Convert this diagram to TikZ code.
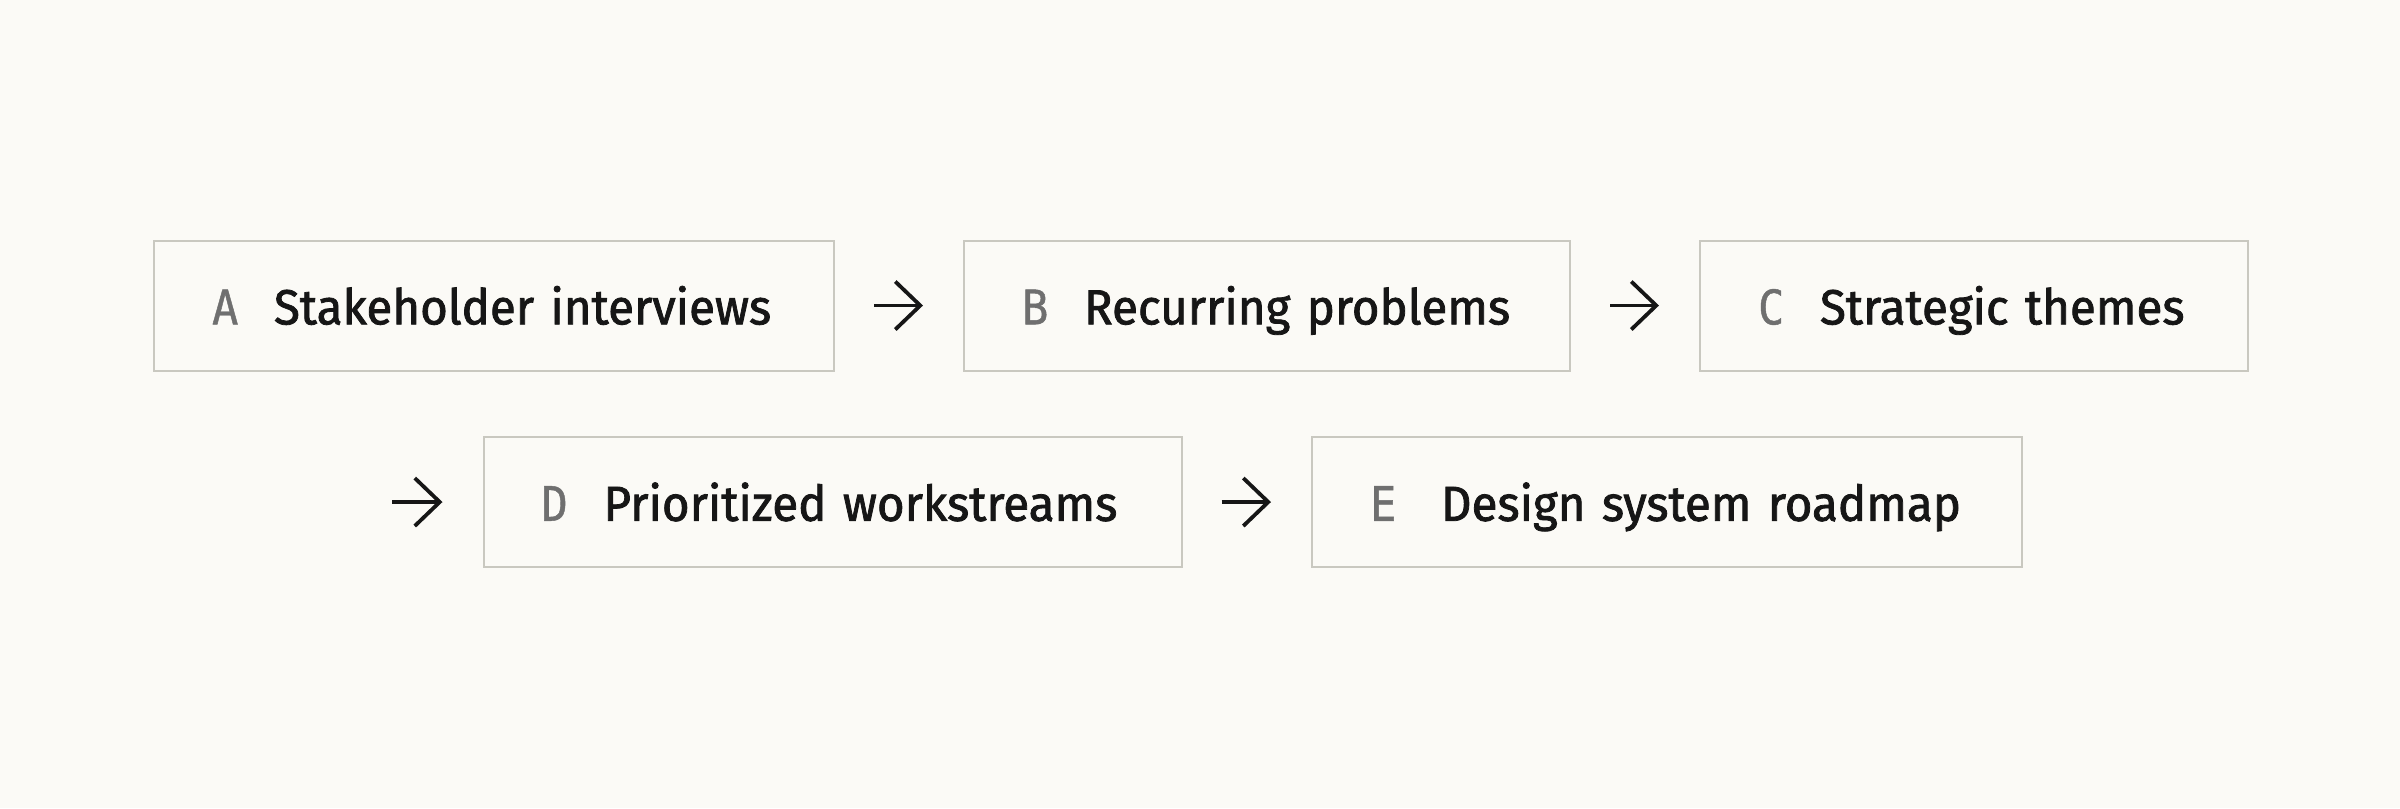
\documentclass[tikz,border=0pt]{standalone}
\usepackage{fontspec}
\setmainfont{Fira Sans}[FakeBold=1.6, FakeStretch=0.965]
\newfontfamily\lettfont{DejaVu Sans Mono}[FakeBold=0.9, FakeStretch=0.92]
\usetikzlibrary{arrows.meta}
\definecolor{bgcol}{HTML}{FBFAF6}
\definecolor{edgecol}{HTML}{C9C8C0}
\definecolor{inkcol}{HTML}{161616}
\definecolor{lettcol}{HTML}{6F6F6F}
\newcommand{\steplabel}[3]{\mbox{\makebox[#3][l]{\fontsize{11.9pt}{14pt}\lettfont\color{lettcol}#1}#2}}
\tikzset{
  stepbox/.style={draw=edgecol, line width=0.5pt, fill=bgcol, anchor=west,
    minimum height=32.5pt, inner xsep=14.5pt, inner ysep=0pt,
    text height=11.9pt, text depth=2.5pt, align=left,
    font=\fontsize{12.3pt}{15pt}\selectfont, text=inkcol},
  flowarrow/.style={draw=inkcol, line width=0.95pt,
    -{Straight Barb[length=6.25pt, width=12pt, line width=0.95pt]},
    shorten <=9.75pt, shorten >=10pt}
}
\begin{document}
\begin{tikzpicture}[x=0.25pt, y=-0.25pt]
\fill[bgcol] (0,0) rectangle (2400,808);
\useasboundingbox (0,0) rectangle (2400,808);
\node[stepbox, text width=141pt] (A) at (153,305.5) {\steplabel{A}{Stakeholder interviews}{15.5pt}};
\node[stepbox, text width=122.5pt] (B) at (963,305.5) {\steplabel{B}{Recurring problems}{15.5pt}};
\node[stepbox, text width=108pt] (C) at (1699,305.5) {\steplabel{C}{Strategic themes}{15.5pt}};
\node[stepbox, text width=145.5pt] (D) at (482.5,502) {\steplabel{D}{Prioritized workstreams}{15.5pt}};
\node[stepbox, text width=148.5pt] (E) at (1311,502) {\steplabel{E}{Design system roadmap}{17.75pt}};
\coordinate (Din) at (392,502);
\draw[flowarrow] (A.east) -- (B.west);
\draw[flowarrow] (B.east) -- (C.west);
\draw[flowarrow, shorten <=0pt] (Din) -- (D.west);
\draw[flowarrow] (D.east) -- (E.west);
\end{tikzpicture}
\end{document}
